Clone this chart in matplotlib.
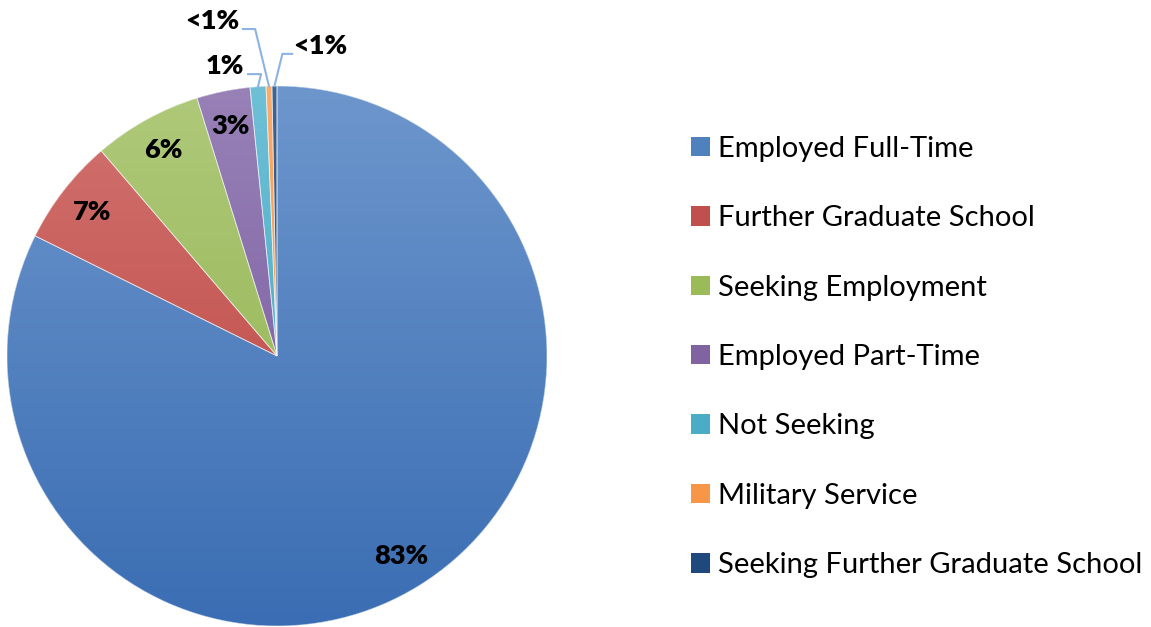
import numpy as np
import matplotlib
matplotlib.use("Agg")
import matplotlib.pyplot as plt
from matplotlib.colors import LinearSegmentedColormap
from matplotlib.patches import Wedge, Patch

categories = ["Employed Full-Time", "Further Graduate School", "Seeking Employment",
              "Employed Part-Time", "Not Seeking", "Military Service",
              "Seeking Further Graduate School"]
values = [82.5, 6.4, 6.5, 3.2, 0.95, 0.35, 0.3]
pct_labels = ["83%", "7%", "6%", "3%", "1%", "<1%", "<1%"]
base_colors = ["#4f81bd", "#c0504d", "#9bbb59", "#8064a2", "#4bacc6", "#f79646", "#1f497d"]
light_colors = ["#6d96cc", "#d27471", "#afc97a", "#9881b7", "#6fc0d6", "#fbab6c", "#3e6494"]
dark_colors = ["#3a6db3", "#b83c38", "#8db048", "#70539a", "#33a1bf", "#f08a30", "#173e6e"]

plt.rcParams['font.family'] = ['Lato', 'DejaVu Sans']

W, H = 1151, 627
fig = plt.figure(figsize=(W / 100, H / 100), dpi=100)
cx, cy, R = 277, 356, 270
ax = fig.add_axes([(cx - R) / W, (H - cy - R) / H, 2 * R / W, 2 * R / H])

wedges, _ = ax.pie(values, colors=base_colors, startangle=90, counterclock=False,
                   radius=1.0, wedgeprops=dict(linewidth=0))

grad = np.linspace(0, 1, 256).reshape(-1, 1)
for w, lc, dc in zip(wedges, light_colors, dark_colors):
    cmap = LinearSegmentedColormap.from_list("g", [lc, dc])
    im = ax.imshow(grad, extent=[-1, 1, -1, 1], cmap=cmap, origin="upper",
                   aspect="auto", zorder=2, interpolation="bilinear")
    im.set_clip_path(w)
    ax.add_patch(Wedge(w.center, w.r, w.theta1, w.theta2, fill=False,
                       ec=(1, 1, 1, 0.6), lw=0.6, zorder=3))

ax.set_xlim(-1, 1)
ax.set_ylim(-1, 1)
ax.set_aspect("equal")
ax.axis("off")

label_fs = 19.5

# inside labels for large slices
for w, lab in list(zip(wedges, pct_labels))[:4]:
    mid = np.deg2rad((w.theta1 + w.theta2) / 2)
    r = 0.87
    ax.text(r * np.cos(mid), r * np.sin(mid), lab, ha="center", va="center",
            fontsize=label_fs, fontweight="heavy", color="black", zorder=5)

# outside labels with leader lines for small slices
lead_color = "#8db3e2"
small = [
    # (label index, text pos, line points)
    (4, (-0.193, 1.074), [(-0.107, 1.044), (-0.059, 1.044)]),
    (5, (-0.241, 1.241), [(-0.126, 1.211), (-0.081, 1.211)]),
    (6, (0.159, 1.148), [(0.056, 1.119), (0.020, 1.119)]),
]
for idx, tpos, pts in small:
    w = wedges[idx]
    mid = np.deg2rad((w.theta1 + w.theta2) / 2)
    edge = (np.cos(mid), np.sin(mid))
    xs = [p[0] for p in pts] + [edge[0]]
    ys = [p[1] for p in pts] + [edge[1]]
    ax.plot(xs, ys, color=lead_color, lw=1.5, clip_on=False, zorder=4)
    ax.text(tpos[0], tpos[1], pct_labels[idx], ha="center", va="center",
            fontsize=label_fs, fontweight="heavy", color="black", clip_on=False, zorder=5)

handles = [Patch(facecolor=c, edgecolor="none") for c in base_colors]
leg = fig.legend(handles, categories, loc="center left",
                 bbox_to_anchor=(691 / W, 1 - 357 / H), frameon=False,
                 fontsize=21, handlelength=0.65, handleheight=0.65,
                 handletextpad=0.27, labelspacing=1.49, borderpad=0, borderaxespad=0)

fig.savefig("out.png", dpi=100)
